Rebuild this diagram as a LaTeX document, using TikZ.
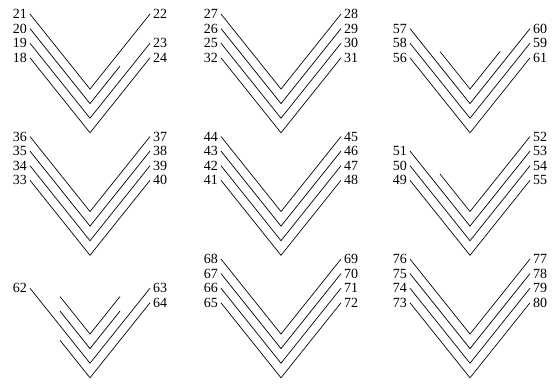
\documentclass[tikz,border=0pt]{standalone}
\usepackage{fontspec}
\setmainfont{Liberation Serif}
\usetikzlibrary{calc}

\begin{document}
\begin{tikzpicture}[
  x=1pt,y=-1pt,
  arm/.style={line width=0.7pt,black},
  num/.style={font=\fontsize{14}{14}\selectfont,inner sep=3pt},
  lnum/.style={num,anchor=east},
  rnum/.style={num,anchor=west},
]
\useasboundingbox (0,0) rectangle (552,384);

% vertices of the nine chevron groups
\foreach \p/\x/\y in {a/90/89,b/281/89,c/470/89,d/90/211.5,e/281/211.5,f/470/211.5,g/90/334,h/281/334,i/470/334}
  \foreach \k in {0,...,3}
    \coordinate (\p\k) at (\x,\y+14.6*\k);

% === ROW 1 ===
\node[lnum] (n21) at ($(a0)+(-60,-75)$) {21};
\node[rnum] (n22) at ($(a0)+(60,-75)$) {22};
\node[lnum] (n20) at ($(a1)+(-60,-75)$) {20};
\coordinate (a1r) at ($(a1)+(30,-37.5)$);
\node[lnum] (n19) at ($(a2)+(-60,-75)$) {19};
\node[rnum] (n23) at ($(a2)+(60,-75)$) {23};
\node[lnum] (n18) at ($(a3)+(-60,-75)$) {18};
\node[rnum] (n24) at ($(a3)+(60,-75)$) {24};
\draw[arm] (n21.east) -- (a0) -- (n22.west);
\draw[arm] (n20.east) -- (a1) -- (a1r);
\draw[arm] (n19.east) -- (a2) -- (n23.west);
\draw[arm] (n18.east) -- (a3) -- (n24.west);

\node[lnum] (n27) at ($(b0)+(-60,-75)$) {27};
\node[rnum] (n28) at ($(b0)+(60,-75)$) {28};
\node[lnum] (n26) at ($(b1)+(-60,-75)$) {26};
\node[rnum] (n29) at ($(b1)+(60,-75)$) {29};
\node[lnum] (n25) at ($(b2)+(-60,-75)$) {25};
\node[rnum] (n30) at ($(b2)+(60,-75)$) {30};
\node[lnum] (n32) at ($(b3)+(-60,-75)$) {32};
\node[rnum] (n31) at ($(b3)+(60,-75)$) {31};
\draw[arm] (n27.east) -- (b0) -- (n28.west);
\draw[arm] (n26.east) -- (b1) -- (n29.west);
\draw[arm] (n25.east) -- (b2) -- (n30.west);
\draw[arm] (n32.east) -- (b3) -- (n31.west);

\coordinate (c0l) at ($(c0)+(-30,-37.5)$);
\coordinate (c0r) at ($(c0)+(30,-37.5)$);
\node[lnum] (n57) at ($(c1)+(-60,-75)$) {57};
\node[rnum] (n60) at ($(c1)+(60,-75)$) {60};
\node[lnum] (n58) at ($(c2)+(-60,-75)$) {58};
\node[rnum] (n59) at ($(c2)+(60,-75)$) {59};
\node[lnum] (n56) at ($(c3)+(-60,-75)$) {56};
\node[rnum] (n61) at ($(c3)+(60,-75)$) {61};
\draw[arm] (c0l) -- (c0) -- (c0r);
\draw[arm] (n57.east) -- (c1) -- (n60.west);
\draw[arm] (n58.east) -- (c2) -- (n59.west);
\draw[arm] (n56.east) -- (c3) -- (n61.west);

% === ROW 2 ===
\node[lnum] (n36) at ($(d0)+(-60,-75)$) {36};
\node[rnum] (n37) at ($(d0)+(60,-75)$) {37};
\node[lnum] (n35) at ($(d1)+(-60,-75)$) {35};
\node[rnum] (n38) at ($(d1)+(60,-75)$) {38};
\node[lnum] (n34) at ($(d2)+(-60,-75)$) {34};
\node[rnum] (n39) at ($(d2)+(60,-75)$) {39};
\node[lnum] (n33) at ($(d3)+(-60,-75)$) {33};
\node[rnum] (n40) at ($(d3)+(60,-75)$) {40};
\draw[arm] (n36.east) -- (d0) -- (n37.west);
\draw[arm] (n35.east) -- (d1) -- (n38.west);
\draw[arm] (n34.east) -- (d2) -- (n39.west);
\draw[arm] (n33.east) -- (d3) -- (n40.west);

\node[lnum] (n44) at ($(e0)+(-60,-75)$) {44};
\node[rnum] (n45) at ($(e0)+(60,-75)$) {45};
\node[lnum] (n43) at ($(e1)+(-60,-75)$) {43};
\node[rnum] (n46) at ($(e1)+(60,-75)$) {46};
\node[lnum] (n42) at ($(e2)+(-60,-75)$) {42};
\node[rnum] (n47) at ($(e2)+(60,-75)$) {47};
\node[lnum] (n41) at ($(e3)+(-60,-75)$) {41};
\node[rnum] (n48) at ($(e3)+(60,-75)$) {48};
\draw[arm] (n44.east) -- (e0) -- (n45.west);
\draw[arm] (n43.east) -- (e1) -- (n46.west);
\draw[arm] (n42.east) -- (e2) -- (n47.west);
\draw[arm] (n41.east) -- (e3) -- (n48.west);

\coordinate (f0l) at ($(f0)+(-30,-37.5)$);
\node[rnum] (n52) at ($(f0)+(60,-75)$) {52};
\node[lnum] (n51) at ($(f1)+(-60,-75)$) {51};
\node[rnum] (n53) at ($(f1)+(60,-75)$) {53};
\node[lnum] (n50) at ($(f2)+(-60,-75)$) {50};
\node[rnum] (n54) at ($(f2)+(60,-75)$) {54};
\node[lnum] (n49) at ($(f3)+(-60,-75)$) {49};
\node[rnum] (n55) at ($(f3)+(60,-75)$) {55};
\draw[arm] (f0l) -- (f0) -- (n52.west);
\draw[arm] (n51.east) -- (f1) -- (n53.west);
\draw[arm] (n50.east) -- (f2) -- (n54.west);
\draw[arm] (n49.east) -- (f3) -- (n55.west);

% === ROW 3 ===
\coordinate (g0l) at ($(g0)+(-30,-37.5)$);
\coordinate (g0r) at ($(g0)+(30,-37.5)$);
\coordinate (g1l) at ($(g1)+(-30,-37.5)$);
\coordinate (g1r) at ($(g1)+(30,-37.5)$);
\node[lnum] (n62) at ($(g2)+(-60,-75)$) {62};
\node[rnum] (n63) at ($(g2)+(60,-75)$) {63};
\coordinate (g3l) at ($(g3)+(-30,-37.5)$);
\node[rnum] (n64) at ($(g3)+(60,-75)$) {64};
\draw[arm] (g0l) -- (g0) -- (g0r);
\draw[arm] (g1l) -- (g1) -- (g1r);
\draw[arm] (n62.east) -- (g2) -- (n63.west);
\draw[arm] (g3l) -- (g3) -- (n64.west);

\node[lnum] (n68) at ($(h0)+(-60,-75)$) {68};
\node[rnum] (n69) at ($(h0)+(60,-75)$) {69};
\node[lnum] (n67) at ($(h1)+(-60,-75)$) {67};
\node[rnum] (n70) at ($(h1)+(60,-75)$) {70};
\node[lnum] (n66) at ($(h2)+(-60,-75)$) {66};
\node[rnum] (n71) at ($(h2)+(60,-75)$) {71};
\node[lnum] (n65) at ($(h3)+(-60,-75)$) {65};
\node[rnum] (n72) at ($(h3)+(60,-75)$) {72};
\draw[arm] (n68.east) -- (h0) -- (n69.west);
\draw[arm] (n67.east) -- (h1) -- (n70.west);
\draw[arm] (n66.east) -- (h2) -- (n71.west);
\draw[arm] (n65.east) -- (h3) -- (n72.west);

\node[lnum] (n76) at ($(i0)+(-60,-75)$) {76};
\node[rnum] (n77) at ($(i0)+(60,-75)$) {77};
\node[lnum] (n75) at ($(i1)+(-60,-75)$) {75};
\node[rnum] (n78) at ($(i1)+(60,-75)$) {78};
\node[lnum] (n74) at ($(i2)+(-60,-75)$) {74};
\node[rnum] (n79) at ($(i2)+(60,-75)$) {79};
\node[lnum] (n73) at ($(i3)+(-60,-75)$) {73};
\node[rnum] (n80) at ($(i3)+(60,-75)$) {80};
\draw[arm] (n76.east) -- (i0) -- (n77.west);
\draw[arm] (n75.east) -- (i1) -- (n78.west);
\draw[arm] (n74.east) -- (i2) -- (n79.west);
\draw[arm] (n73.east) -- (i3) -- (n80.west);

\end{tikzpicture}
\end{document}
